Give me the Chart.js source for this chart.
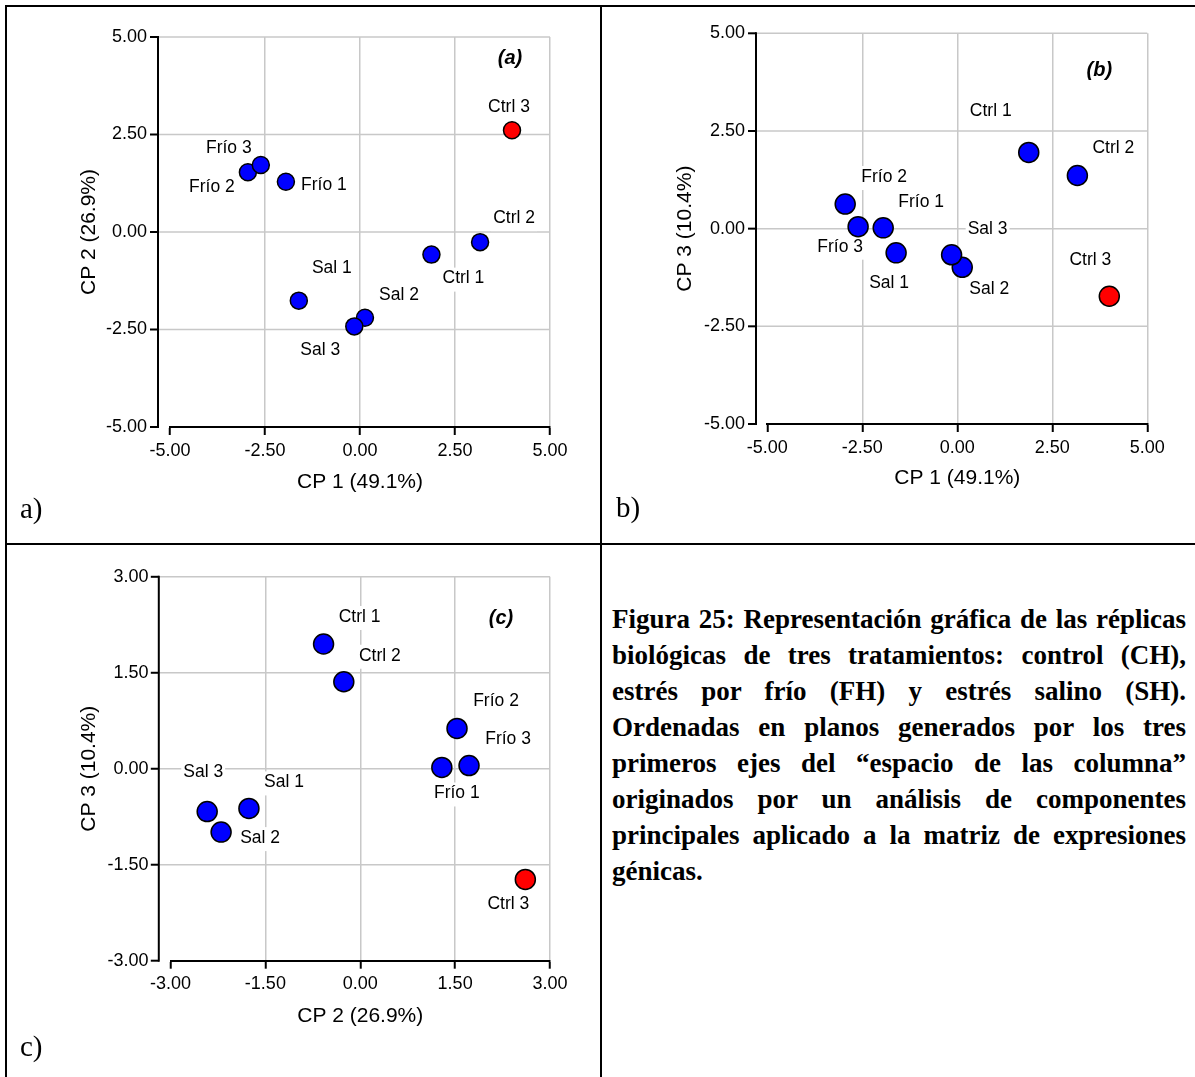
<!DOCTYPE html>
<html>
<head>
<meta charset="utf-8">
<script src="https://cdn.jsdelivr.net/npm/chart.js@4.4.0/dist/chart.umd.min.js"></script>
<style>
html,body{margin:0;padding:0;background:#fff;}
#page{position:relative;width:1195px;height:1077px;overflow:hidden;background:#fff;}
canvas{position:absolute;}
.rule{position:absolute;background:#000;}
.plabel{position:absolute;font:29px "Liberation Serif","Times New Roman",serif;line-height:29px;color:#000;}
#caption{position:absolute;left:612px;top:601px;width:574px;font:bold 27px "Liberation Serif","Times New Roman",serif;color:#000;}
#caption div{height:36px;line-height:36px;text-align:justify;text-align-last:justify;}
#caption div.last{text-align-last:left;}
</style>
</head>
<body>
<div id="page">
  <canvas id="ca" width="600" height="540" style="left:0;top:0;"></canvas>
  <canvas id="cb" width="594" height="540" style="left:601px;top:0;"></canvas>
  <canvas id="cc" width="600" height="533" style="left:0;top:544px;"></canvas>

  <div class="rule" style="left:5px;top:5px;width:1190px;height:2px;"></div>
  <div class="rule" style="left:5px;top:5px;width:2px;height:1072px;"></div>
  <div class="rule" style="left:600px;top:5px;width:2px;height:1072px;"></div>
  <div class="rule" style="left:5px;top:543px;width:1190px;height:2px;"></div>

  <div class="plabel" style="left:20px;top:494px;">a)</div>
  <div class="plabel" style="left:616px;top:493px;">b)</div>
  <div class="plabel" style="left:20px;top:1032px;">c)</div>

  <div id="caption">
    <div>Figura 25: Representación gráfica de las réplicas</div>
    <div>biológicas de tres tratamientos: control (CH),</div>
    <div>estrés por frío (FH) y estrés salino (SH).</div>
    <div>Ordenadas en planos generados por los tres</div>
    <div>primeros ejes del “espacio de las columna”</div>
    <div>originados por un análisis de componentes</div>
    <div>principales aplicado a la matriz de expresiones</div>
    <div class="last">génicas.</div>
  </div>
</div>

<script>
// ---------------- DATA ----------------
const samples = ['Ctrl 1', 'Ctrl 2', 'Ctrl 3', 'Frío 1', 'Frío 2', 'Frío 3', 'Sal 1', 'Sal 2', 'Sal 3'];
const cp1 = [1.88, 3.16, 4.00, -1.95, -2.95, -2.61, -1.61, 0.13, -0.15];
const cp2 = [-0.58, -0.26, 2.61, 1.29, 1.53, 1.72, -1.76, -2.20, -2.42];
const cp3 = [1.95, 1.36, -1.73, 0.02, 0.63, 0.05, -0.62, -0.99, -0.67];
const highlighted = ['Ctrl 3'];
const ticksCP1 = [-5, -2.5, 0, 2.5, 5];
const ticksCP2 = [-5, -2.5, 0, 2.5, 5];
const ticksCP3 = [-5, -2.5, 0, 2.5, 5];
const ticksSmall = [-3, -1.5, 0, 1.5, 3];
const titleCP1 = 'CP 1 (49.1%)';
const titleCP2 = 'CP 2 (26.9%)';
const titleCP3 = 'CP 3 (10.4%)';

// ---------------- STYLE ----------------
const SANS = 'Arial, "Liberation Sans", sans-serif';
const GRID = '#c8c8c8';
const BLUE = '#0000ff';
const RED = '#ff0000';

// label offsets (pixels from the marker centre), per panel
const offA = {'Ctrl 1':[32,24],'Ctrl 2':[34,-24],'Ctrl 3':[-3,-23],'Frío 1':[38,3],'Frío 2':[-36,15],'Frío 3':[-32,-17],'Sal 1':[33,-32],'Sal 2':[34,-23],'Sal 3':[-34,24]};
const offB = {'Ctrl 1':[-38,-41],'Ctrl 2':[36,-27],'Ctrl 3':[-19,-36],'Frío 1':[38,-26],'Frío 2':[39,-27],'Frío 3':[-18,20],'Sal 1':[-7,30],'Sal 2':[27,22],'Sal 3':[36,-26]};
const offC = {'Ctrl 1':[36,-27],'Ctrl 2':[36,-26],'Ctrl 3':[-17,25],'Frío 1':[15,26],'Frío 2':[39,-27],'Frío 3':[39,-26],'Sal 1':[35,-26],'Sal 2':[39,6],'Sal 3':[-4,-39]};

const decorPlugin = {
  id: 'panelDecor',
  beforeDatasetsDraw(chart) {
    const o = chart.options.plugins.panelDecor;
    const ctx = chart.ctx, a = chart.chartArea, x = chart.scales.x, y = chart.scales.y;
    const axisX = a.left - o.gap;
    ctx.save();
    ctx.lineCap = 'butt';
    // horizontal grid lines
    ctx.strokeStyle = GRID; ctx.lineWidth = 1.5;
    y.ticks.forEach(t => {
      if (t.value === y.min) return;
      const py = y.getPixelForValue(t.value);
      ctx.beginPath(); ctx.moveTo(axisX, py); ctx.lineTo(a.right, py); ctx.stroke();
    });
    // y axis line + ticks
    ctx.strokeStyle = '#000'; ctx.lineWidth = 2;
    ctx.beginPath();
    ctx.moveTo(axisX, y.getPixelForValue(y.max) - 1);
    ctx.lineTo(axisX, y.getPixelForValue(y.min) + 1);
    ctx.stroke();
    y.ticks.forEach(t => {
      const py = y.getPixelForValue(t.value);
      ctx.beginPath(); ctx.moveTo(axisX - 8, py); ctx.lineTo(axisX, py); ctx.stroke();
    });
    // point labels
    ctx.font = '17.5px ' + SANS;
    ctx.textAlign = 'center'; ctx.textBaseline = 'middle';
    chart.data.datasets[0].data.forEach(p => {
      const off = o.offsets[p.label];
      const cx = x.getPixelForValue(p.x) + off[0];
      const cy = y.getPixelForValue(p.y) + off[1];
      const w = ctx.measureText(p.label).width + 4;
      ctx.fillStyle = '#fff';
      ctx.fillRect(cx - w / 2, cy - 11, w, 24);
      ctx.fillStyle = '#000';
      ctx.fillText(p.label, cx, cy);
    });
    // panel tag
    ctx.font = 'italic bold 20px ' + SANS;
    ctx.fillStyle = '#000';
    ctx.fillText(o.tag, a.right + o.tagPos[0], a.top + o.tagPos[1]);
    ctx.restore();
  }
};

function makePanel(id, xs, ys, xTicks, yTicks, xTitle, yTitle, L) {
  const data = samples.map((s, i) => ({x: xs[i], y: ys[i], label: s}));
  const colors = samples.map(s => highlighted.includes(s) ? RED : BLUE);
  const fmt = v => Number(v).toFixed(2);
  new Chart(document.getElementById(id), {
    type: 'scatter',
    data: {datasets: [{
      data: data,
      pointRadius: L.r,
      pointHoverRadius: L.r,
      pointBackgroundColor: colors,
      pointBorderColor: '#000',
      pointBorderWidth: 1.5,
      clip: false
    }]},
    options: {
      responsive: false,
      animation: false,
      devicePixelRatio: 1,
      events: [],
      layout: {padding: L.pad},
      plugins: {
        legend: {display: false},
        tooltip: {enabled: false},
        panelDecor: {gap: L.gap, offsets: L.offsets, tag: L.tag, tagPos: L.tagPos}
      },
      scales: {
        x: {
          type: 'linear', position: 'bottom',
          min: xTicks[0], max: xTicks[xTicks.length - 1],
          afterBuildTicks: s => { s.ticks = xTicks.map(v => ({value: v})); },
          afterFit: s => { s.height = L.xh; },
          grid: {
            color: c => (c.tick && c.tick.value === xTicks[0]) ? 'rgba(0,0,0,0)' : GRID,
            lineWidth: 1.5, drawTicks: true, tickLength: 8, tickColor: '#000', tickWidth: 2
          },
          border: {display: true, color: '#000', width: 2},
          ticks: {color: '#000', font: {family: SANS, size: 18}, padding: 5, autoSkip: false, maxRotation: 0, callback: fmt},
          title: {display: true, text: xTitle, color: '#000', font: {family: SANS, size: 21}, padding: {top: 0, bottom: L.xtp}}
        },
        y: {
          type: 'linear', position: 'left',
          min: yTicks[0], max: yTicks[yTicks.length - 1],
          afterBuildTicks: s => { s.ticks = yTicks.map(v => ({value: v})); },
          afterFit: s => { s.width = L.yw; },
          grid: {display: false, drawTicks: false},
          border: {display: false},
          ticks: {color: '#000', font: {family: SANS, size: 18}, padding: L.ytp, autoSkip: false, callback: fmt},
          title: {display: true, text: yTitle, color: '#000', font: {family: SANS, size: 21}, padding: {top: L.ytt, bottom: 0}}
        }
      }
    },
    plugins: [decorPlugin]
  });
}

makePanel('ca', cp1, cp2, ticksCP1, ticksCP2, titleCP1, titleCP2, {
  r: 8.5, gap: 12, offsets: offA, tag: '(a)', tagPos: [-40, 21],
  pad: {left: 0, top: 37, right: 50, bottom: 0}, yw: 170, xh: 113, xtp: 45.4, ytt: 76.4, ytp: 23
});
makePanel('cb', cp1, cp3, ticksCP1, ticksCP3, titleCP1, titleCP3, {
  r: 10, gap: 11.3, offsets: offB, tag: '(b)', tagPos: [-48, 37],
  pad: {left: 0, top: 33.3, right: 47.7, bottom: 0}, yw: 166.3, xh: 116, xtp: 48.8, ytt: 71.4, ytp: 22.3
});
makePanel('cc', cp2, cp3, ticksSmall, ticksSmall, titleCP2, titleCP3, {
  r: 10, gap: 11.7, offsets: offC, tag: '(c)', tagPos: [-49, 42],
  pad: {left: 0, top: 26.7, right: 50, bottom: 0}, yw: 170.5, xh: 116.3, xtp: 48.4, ytt: 76.4, ytp: 22
});
</script>
</body>
</html>
